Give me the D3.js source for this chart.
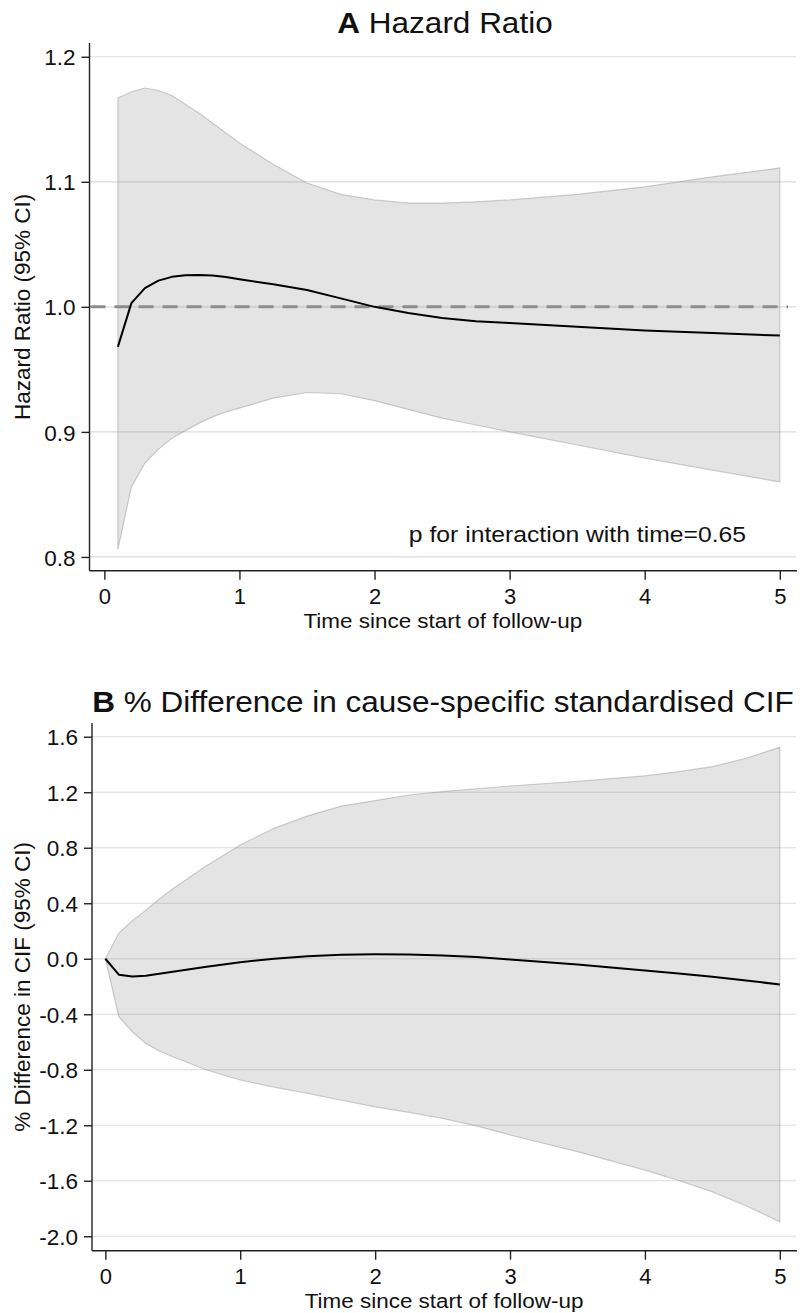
<!DOCTYPE html>
<html>
<head>
<meta charset="utf-8">
<script src="https://cdn.jsdelivr.net/npm/d3@7"></script>
<style>
  html, body { margin: 0; padding: 0; background: #fff; }
  svg { display: block; font-family: "Liberation Sans", Arial, sans-serif; }
</style>
</head>
<body>
<svg id="chart" width="804" height="1313"></svg>
<script>
// Panel A: time-varying hazard ratio with 95% CI
const timeA = [0.1, 0.2, 0.3, 0.4, 0.5, 0.6, 0.7, 0.8, 0.9, 1.0, 1.25, 1.5, 1.75, 2.0, 2.25, 2.5, 2.75, 3.0, 3.5, 4.0, 4.5, 5.0];
const hrEstimate = [0.968, 1.003, 1.015, 1.021, 1.024, 1.0252, 1.0255, 1.025, 1.0238, 1.022, 1.018, 1.0135, 1.0068, 1.0, 0.995, 0.991, 0.9885, 0.987, 0.984, 0.981, 0.979, 0.977];
const hrLower = [0.806, 0.856, 0.875, 0.886, 0.895, 0.901, 0.907, 0.912, 0.916, 0.919, 0.927, 0.9315, 0.9305, 0.925, 0.918, 0.911, 0.9055, 0.9, 0.8895, 0.879, 0.8695, 0.86];
const hrUpper = [1.167, 1.172, 1.175, 1.173, 1.169, 1.162, 1.155, 1.147, 1.139, 1.131, 1.114, 1.099, 1.09, 1.0855, 1.083, 1.083, 1.084, 1.0855, 1.09, 1.096, 1.104, 1.111];
const yTicksA = [0.8, 0.9, 1.0, 1.1, 1.2];
const yTickLabelsA = ["0.8", "0.9", "1.0", "1.1", "1.2"];

// Panel B: % difference in cause-specific standardised CIF with 95% CI
const timeB = [0, 0.1, 0.2, 0.3, 0.4, 0.5, 0.75, 1.0, 1.25, 1.5, 1.75, 2.0, 2.25, 2.5, 2.75, 3.0, 3.5, 4.0, 4.25, 4.5, 4.75, 5.0];
const cifDiff = [0, -0.115, -0.128, -0.122, -0.108, -0.094, -0.058, -0.025, 0.0, 0.018, 0.028, 0.032, 0.031, 0.024, 0.012, -0.005, -0.042, -0.085, -0.107, -0.13, -0.157, -0.185];
const cifLower = [0, -0.418, -0.526, -0.61, -0.665, -0.706, -0.802, -0.874, -0.925, -0.97, -1.02, -1.067, -1.107, -1.15, -1.205, -1.27, -1.39, -1.523, -1.598, -1.68, -1.78, -1.895];
const cifUpper = [0, 0.185, 0.275, 0.35, 0.43, 0.505, 0.67, 0.82, 0.94, 1.03, 1.1, 1.14, 1.18, 1.205, 1.225, 1.245, 1.278, 1.318, 1.348, 1.385, 1.445, 1.525];
const yTicksB = [-2.0, -1.6, -1.2, -0.8, -0.4, 0.0, 0.4, 0.8, 1.2, 1.6];
const yTickLabelsB = ["-2.0", "-1.6", "-1.2", "-0.8", "-0.4", "0.0", "0.4", "0.8", "1.2", "1.6"];

const xTicks = [0, 1, 2, 3, 4, 5];
const xTickLabels = ["0", "1", "2", "3", "4", "5"];

const svg = d3.select("#chart");

// text placed at an anchor point, optionally widened horizontally
function label(g, x, y, str, size, anchor, sx) {
  return g.append("text")
    .attr("transform", `translate(${x},${y}) scale(${sx || 1},1)`)
    .attr("text-anchor", anchor).attr("font-size", size).attr("fill", "#111")
    .text(str);
}

function drawPanel(opts) {
  const g = svg.append("g");
  const x = d3.scaleLinear().domain(opts.xDomain).range([opts.left, opts.right]);
  const y = d3.scaleLinear().domain(opts.yDomain).range([opts.bottom, opts.top]);

  // horizontal gridlines
  g.append("g").selectAll("line").data(opts.yTicks).join("line")
    .attr("x1", opts.left).attr("x2", opts.right)
    .attr("y1", d => y(d)).attr("y2", d => y(d))
    .attr("stroke", "#dcdcdc").attr("stroke-width", 1.2);

  const pts = opts.time.map((t, i) => ({ t, lo: opts.lower[i], hi: opts.upper[i], est: opts.est[i] }));

  // confidence band
  g.append("path").datum(pts)
    .attr("d", d3.area().x(d => x(d.t)).y0(d => y(d.lo)).y1(d => y(d.hi)))
    .attr("fill", "rgb(120,120,120)").attr("fill-opacity", 0.2)
    .attr("stroke", "rgb(150,150,150)").attr("stroke-opacity", 0.45).attr("stroke-width", 1.2);

  if (opts.refLine !== undefined) {
    g.append("line")
      .attr("x1", opts.left + 1).attr("x2", opts.right - 8)
      .attr("y1", y(opts.refLine)).attr("y2", y(opts.refLine))
      .attr("stroke", "#8c8c8c").attr("stroke-width", 3)
      .attr("stroke-dasharray", "15,9");
  }

  // point estimate
  g.append("path").datum(pts)
    .attr("d", d3.line().x(d => x(d.t)).y(d => y(d.est)))
    .attr("fill", "none").attr("stroke", "#000").attr("stroke-width", 2)
    .attr("stroke-linejoin", "round");

  // y axis
  const yAxis = d3.axisLeft(y).tickValues(opts.yTicks)
    .tickFormat((d, i) => opts.yTickLabels[i]).tickSize(8).tickPadding(6);
  const ya = g.append("g").attr("transform", `translate(${opts.left},0)`).call(yAxis);
  ya.select(".domain").attr("d", `M0,${opts.top}V${opts.bottom}`).attr("stroke", "#222").attr("stroke-width", 1.4);
  ya.selectAll(".tick line").attr("stroke", "#222").attr("stroke-width", 1.4);
  ya.selectAll(".tick text").attr("font-size", 22.5).attr("fill", "#111")
    .attr("font-family", "Liberation Sans, Arial, sans-serif").attr("dy", "0.36em");

  // x axis
  const xAxis = d3.axisBottom(x).tickValues(xTicks)
    .tickFormat((d, i) => xTickLabels[i]).tickSize(9).tickPadding(6);
  const xa = g.append("g").attr("transform", `translate(0,${opts.bottom})`).call(xAxis);
  xa.select(".domain").attr("d", `M${opts.left},0H${opts.right + 1}`).attr("stroke", "#222").attr("stroke-width", 1.4);
  xa.selectAll(".tick line").attr("stroke", "#222").attr("stroke-width", 1.4);
  xa.selectAll(".tick text").attr("font-size", 22).attr("fill", "#111")
    .attr("font-family", "Liberation Sans, Arial, sans-serif").attr("dy", 0)
    .attr("y", 33.8);

  // axis titles
  label(g, (opts.left + opts.right) / 2, opts.bottom + 57.3, "Time since start of follow-up", 21, "middle", 1.07);
  g.append("text")
    .attr("transform", `translate(30,${(opts.top + opts.bottom) / 2}) rotate(-90)`)
    .attr("text-anchor", "middle").attr("font-size", 22.5).attr("fill", "#111")
    .text(opts.yTitle);

  // panel title: bold letter followed by regular text
  const title = label(g, opts.titleX, opts.titleY, "", 30, "middle", 1.05);
  title.append("tspan").attr("font-weight", "bold").text(opts.letter);
  title.append("tspan").text(" " + opts.titleText);

  if (opts.note) {
    label(g, opts.note.x, opts.note.y, opts.note.text, 23, "end", 1.075);
  }
}

drawPanel({
  time: timeA, est: hrEstimate, lower: hrLower, upper: hrUpper,
  xDomain: [-0.11, 5.12], yDomain: [0.789, 1.211],
  left: 89.5, right: 796, top: 43, bottom: 570.7,
  yTicks: yTicksA, yTickLabels: yTickLabelsA,
  refLine: 1.0,
  yTitle: "Hazard Ratio (95% CI)",
  letter: "A", titleText: "Hazard Ratio", titleX: 445, titleY: 33,
  note: { x: 746, y: 541.7, text: "p for interaction with time=0.65" }
});

drawPanel({
  time: timeB, est: cifDiff, lower: cifLower, upper: cifUpper,
  xDomain: [-0.099, 5.12], yDomain: [-2.104, 1.699],
  left: 92, right: 796, top: 723, bottom: 1250.7,
  yTicks: yTicksB, yTickLabels: yTickLabelsB,
  yTitle: "% Difference in CIF (95% CI)",
  letter: "B", titleText: "% Difference in cause-specific standardised CIF", titleX: 443, titleY: 712
});
</script>
</body>
</html>
